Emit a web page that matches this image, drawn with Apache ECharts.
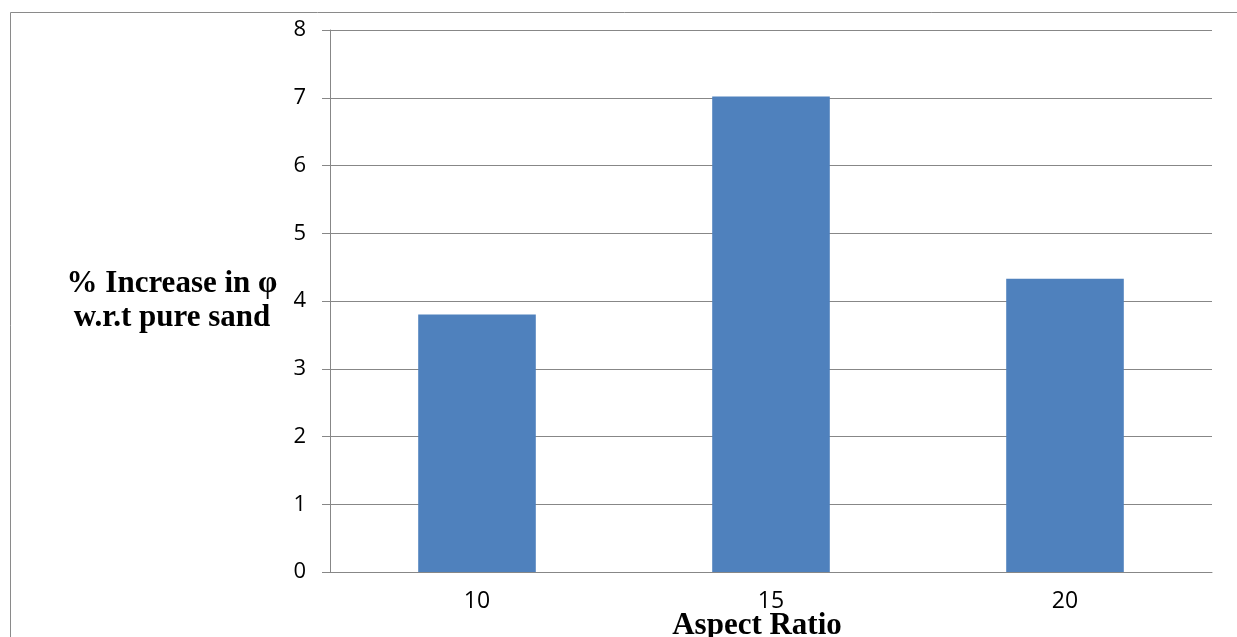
<!DOCTYPE html>
<html>
<head>
<meta charset="utf-8">
<title>Aspect Ratio vs % Increase in φ</title>
<script src="https://cdn.jsdelivr.net/npm/echarts@6/dist/echarts.min.js"></script>
<style>
  html, body { margin: 0; padding: 0; background: #ffffff; }
  #chart { width: 1237px; height: 637px; }
</style>
</head>
<body>
<div id="chart"></div>
<script>
// Aspect ratio categories and the % increase in friction angle for each
const categories = ['10', '15', '20'];
const increaseValues = [3.8, 7.02, 4.33];
const yTicks = { min: 0, max: 8, interval: 1 };

const chart = echarts.init(document.getElementById('chart'), null, { renderer: 'canvas' });

const gridColor = '#878787';

chart.setOption({
  animation: false,
  backgroundColor: '#ffffff',
  graphic: [
    {
      type: 'rect',
      shape: { x: 10.5, y: 12.5, width: 1400, height: 800 },
      style: { fill: 'none', stroke: '#8a8a8a', lineWidth: 1 },
      silent: true
    }
  ],
  grid: {
    left: 330, right: 25, top: 30, bottom: 65,
    containLabel: false,
    outerBoundsMode: 'none'
  },
  xAxis: {
    type: 'category',
    data: categories,
    name: 'Aspect Ratio',
    nameLocation: 'middle',
    nameGap: 38,
    nameMoveOverlap: false,
    nameTextStyle: {
      fontFamily: 'Liberation Serif',
      fontWeight: 'bold',
      fontSize: 31,
      lineHeight: 31,
      color: '#000000',
      padding: [0, 28, 0, 0]
    },
    axisLine: { show: true, lineStyle: { color: gridColor, width: 1 } },
    axisTick: { show: false },
    axisLabel: {
      fontFamily: 'Open Sans',
      fontSize: 23,
      color: '#000000',
      margin: 18
    }
  },
  yAxis: {
    type: 'value',
    min: yTicks.min,
    max: yTicks.max,
    interval: yTicks.interval,
    name: '% Increase in φ\nw.r.t pure sand',
    nameLocation: 'middle',
    nameRotate: 0,
    nameGap: 158,
    nameMoveOverlap: false,
    nameTextStyle: {
      fontFamily: 'Liberation Serif',
      fontWeight: 'bold',
      fontSize: 31,
      lineHeight: 34,
      color: '#000000',
      align: 'center'
    },
    axisLine: { show: true, lineStyle: { color: gridColor, width: 1 } },
    axisTick: { show: true, length: 8, inside: false, lineStyle: { color: gridColor } },
    axisLabel: {
      fontFamily: 'Open Sans',
      fontSize: 22,
      color: '#000000',
      margin: 24
    },
    splitLine: { show: true, lineStyle: { color: gridColor, width: 1 } }
  },
  series: [
    {
      type: 'bar',
      data: increaseValues,
      barWidth: '40%',
      itemStyle: { color: '#4f81bd' }
    }
  ]
});
</script>
</body>
</html>
